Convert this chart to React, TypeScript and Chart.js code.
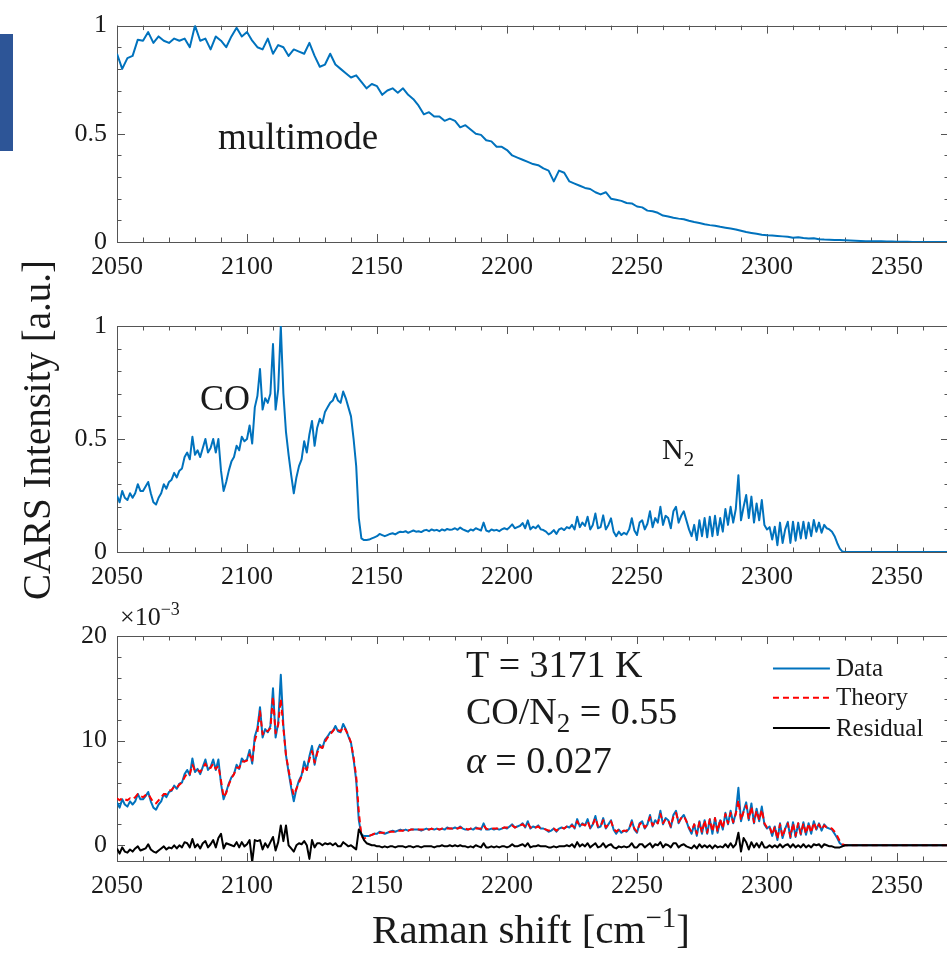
import React, { useEffect, useRef } from "react";
import { Chart, registerables } from "chart.js";

Chart.register(...registerables);

// ---------- axes ----------
const X_MIN = 2050;
const X_MAX = 2370;
const X_TICKS = [2050, 2100, 2150, 2200, 2250, 2300, 2350];
const X_MINOR_STEP = 10;
const Y_TICKS_NORM = [0, 0.5, 1];
const Y_MINOR_NORM = 0.1;
const Y_TICKS_FIT = [0, 10, 20];
const Y_MINOR_FIT = 2;
const FIT_MIN = -1.5;
const FIT_MAX = 20;

// ---------- sampling of the Raman shift axis ----------
const SHIFT_START = 2050;
const MULTIMODE_STEP = 2;
const SPECTRUM_STEP = 1;

// ---------- panel 1 : multimode laser profile (2050..2370, step 2) ----------
const MULTIMODE = [
  0.87, 0.80, 0.85, 0.86, 0.935,
  0.93, 0.97, 0.92, 0.95, 0.93,
  0.92, 0.94, 0.93, 0.94, 0.90,
  1.0, 0.93, 0.94, 0.89, 0.95,
  0.93, 0.90, 0.95, 0.99, 0.95,
  0.97, 0.93, 0.90, 0.89, 0.94,
  0.87, 0.91, 0.90, 0.86, 0.89,
  0.88, 0.87, 0.92, 0.86, 0.81,
  0.82, 0.87, 0.82, 0.80, 0.78,
  0.76, 0.77, 0.74, 0.71, 0.73,
  0.72, 0.68, 0.70, 0.71, 0.69,
  0.71, 0.68, 0.66, 0.63, 0.59,
  0.60, 0.58, 0.58, 0.56, 0.57,
  0.56, 0.53, 0.54, 0.52, 0.50,
  0.495, 0.47, 0.465, 0.44, 0.44,
  0.425, 0.40, 0.39, 0.38, 0.37,
  0.36, 0.355, 0.34, 0.33, 0.28,
  0.33, 0.32, 0.28, 0.27, 0.26,
  0.25, 0.245, 0.23, 0.22, 0.23,
  0.20, 0.195, 0.19, 0.18, 0.178,
  0.164, 0.16, 0.145, 0.142, 0.135,
  0.122, 0.118, 0.112, 0.108, 0.105,
  0.098, 0.092, 0.088, 0.082, 0.078,
  0.075, 0.07, 0.066, 0.062, 0.058,
  0.052, 0.046, 0.042, 0.038, 0.034,
  0.031, 0.03, 0.028, 0.026, 0.024,
  0.02, 0.022, 0.018, 0.016, 0.017,
  0.013, 0.011, 0.01, 0.009, 0.009,
  0.008, 0.007, 0.006, 0.005, 0.004,
  0.004, 0.003, 0.003, 0.002, 0.002,
  0.001, 0.001, 0.001, 0, 0,
  0, 0, 0, 0, 0,
  0,
];

// ---------- panel 2 : normalised CARS spectrum (2050..2370, step 1) ----------
const CARS_NORM = [
  0.25, 0.22, 0.27, 0.24, 0.23, 0.26, 0.24, 0.26, 0.30, 0.27,
  0.27, 0.29, 0.31, 0.26, 0.22, 0.21, 0.24, 0.26, 0.30, 0.28,
  0.31, 0.32, 0.35, 0.33, 0.36, 0.37, 0.42, 0.44, 0.41, 0.51,
  0.43, 0.45, 0.42, 0.46, 0.50, 0.44, 0.46, 0.50, 0.44, 0.50,
  0.36, 0.27, 0.31, 0.36, 0.40, 0.42, 0.47, 0.45, 0.51, 0.49,
  0.50, 0.56, 0.48, 0.64, 0.69, 0.81, 0.63, 0.68, 0.66, 0.70,
  0.92, 0.63, 0.72, 1.00, 0.70, 0.53, 0.43, 0.34, 0.26, 0.33,
  0.38, 0.41, 0.49, 0.44, 0.52, 0.58, 0.47, 0.55, 0.59, 0.57,
  0.62, 0.64, 0.66, 0.67, 0.70, 0.67, 0.66, 0.71, 0.68, 0.64,
  0.60, 0.50, 0.38, 0.15, 0.06, 0.053, 0.053, 0.055, 0.06, 0.065,
  0.07, 0.08, 0.075, 0.07, 0.075, 0.08, 0.083, 0.078, 0.085, 0.09,
  0.088, 0.092, 0.085, 0.09, 0.095, 0.09, 0.092, 0.088, 0.095, 0.098,
  0.092, 0.1, 0.095, 0.098, 0.092, 0.1, 0.095, 0.102, 0.098, 0.1,
  0.105, 0.098, 0.108, 0.1, 0.095, 0.09, 0.1, 0.095, 0.105, 0.1,
  0.095, 0.13, 0.095, 0.09, 0.1, 0.095, 0.098, 0.092, 0.1, 0.105,
  0.1, 0.11, 0.122, 0.105, 0.11, 0.115, 0.128, 0.105, 0.14, 0.1,
  0.112, 0.105, 0.118, 0.1, 0.097, 0.09, 0.078, 0.085, 0.097, 0.08,
  0.1, 0.105, 0.097, 0.11, 0.105, 0.12, 0.1, 0.156, 0.11, 0.13,
  0.115, 0.156, 0.1, 0.12, 0.17, 0.105, 0.11, 0.162, 0.1, 0.12,
  0.149, 0.09, 0.07, 0.09, 0.075, 0.085, 0.078, 0.1, 0.149, 0.095,
  0.075, 0.13, 0.14, 0.1, 0.125, 0.18, 0.11, 0.15, 0.13, 0.2,
  0.12, 0.16, 0.15, 0.105, 0.18, 0.2, 0.13, 0.16, 0.18, 0.14,
  0.1, 0.07, 0.12, 0.053, 0.14, 0.07, 0.15, 0.065, 0.156, 0.07,
  0.16, 0.075, 0.15, 0.09, 0.19, 0.12, 0.2, 0.13, 0.19, 0.34,
  0.14, 0.2, 0.252, 0.15, 0.245, 0.13, 0.215, 0.14, 0.23, 0.12,
  0.1, 0.11, 0.055, 0.112, 0.03, 0.13, 0.04, 0.1, 0.134, 0.04,
  0.134, 0.05, 0.13, 0.06, 0.134, 0.06, 0.13, 0.07, 0.142, 0.09,
  0.13, 0.085, 0.12, 0.105, 0.1, 0.09, 0.07, 0.04, 0.015, 0.002,
  0, 0, 0, 0, 0, 0, 0, 0, 0, 0,
  0, 0, 0, 0, 0, 0, 0, 0, 0, 0,
  0, 0, 0, 0, 0, 0, 0, 0, 0, 0,
  0, 0, 0, 0, 0, 0, 0, 0, 0, 0,
  0,
];

// ---------- panel 3 : fit (x 10^-3), 2050..2370, step 1 ----------
const FIT_DATA = [
  4.1, 3.6, 4.4, 3.9, 3.7, 4.2, 3.9, 4.2, 4.9, 4.4,
  4.4, 4.7, 5.1, 4.2, 3.6, 3.4, 3.9, 4.2, 4.9, 4.6,
  5.1, 5.2, 5.7, 5.4, 5.9, 6.0, 6.8, 7.2, 6.7, 8.3,
  7.0, 7.3, 6.8, 7.5, 8.2, 7.2, 7.5, 8.2, 7.2, 8.2,
  5.9, 4.4, 5.1, 5.9, 6.5, 6.8, 7.7, 7.3, 8.3, 8.0,
  8.2, 9.1, 7.8, 10.4, 11.2, 13.2, 10.3, 11.1, 10.8, 11.4,
  15.0, 10.3, 11.7, 16.3, 11.4, 8.6, 7.0, 5.5, 4.2, 5.4,
  6.2, 6.7, 8.0, 7.2, 8.5, 9.5, 7.7, 9.0, 9.6, 9.3,
  10.1, 10.4, 10.8, 10.9, 11.4, 10.9, 10.8, 11.6, 11.1, 10.4,
  9.8, 8.2, 6.2, 2.4, 1.0, 0.9, 0.9, 0.9, 1.0, 1.1,
  1.1, 1.3, 1.2, 1.1, 1.2, 1.3, 1.4, 1.3, 1.4, 1.5,
  1.4, 1.5, 1.4, 1.5, 1.5, 1.5, 1.5, 1.4, 1.5, 1.6,
  1.5, 1.6, 1.5, 1.6, 1.5, 1.6, 1.5, 1.7, 1.6, 1.6,
  1.7, 1.6, 1.8, 1.6, 1.5, 1.5, 1.6, 1.5, 1.7, 1.6,
  1.5, 2.1, 1.5, 1.5, 1.6, 1.5, 1.6, 1.5, 1.6, 1.7,
  1.6, 1.8, 2.0, 1.7, 1.8, 1.9, 2.1, 1.7, 2.3, 1.6,
  1.8, 1.7, 1.9, 1.6, 1.6, 1.5, 1.3, 1.4, 1.6, 1.3,
  1.6, 1.7, 1.6, 1.8, 1.7, 2.0, 1.6, 2.5, 1.8, 2.1,
  1.9, 2.5, 1.6, 2.0, 2.8, 1.7, 1.8, 2.6, 1.6, 2.0,
  2.4, 1.5, 1.1, 1.5, 1.2, 1.4, 1.3, 1.6, 2.4, 1.5,
  1.2, 2.1, 2.3, 1.6, 2.0, 2.9, 1.8, 2.4, 2.1, 3.3,
  2.0, 2.6, 2.4, 1.7, 2.9, 3.3, 2.1, 2.6, 2.9, 2.3,
  1.6, 1.1, 2.0, 0.9, 2.3, 1.1, 2.4, 1.1, 2.5, 1.1,
  2.6, 1.2, 2.4, 1.5, 3.1, 2.0, 3.3, 2.1, 3.1, 5.5,
  2.3, 3.3, 4.1, 2.4, 4.0, 2.1, 3.5, 2.3, 3.7, 2.0,
  1.6, 1.8, 0.9, 1.8, 0.5, 2.1, 0.7, 1.6, 2.2, 0.7,
  2.2, 0.8, 2.1, 1.0, 2.2, 1.0, 2.1, 1.1, 2.3, 1.5,
  2.1, 1.4, 2.0, 1.7, 1.6, 1.5, 1.1, 0.7, 0.2, 0.0,
  0, 0, 0, 0, 0, 0, 0, 0, 0, 0,
  0, 0, 0, 0, 0, 0, 0, 0, 0, 0,
  0, 0, 0, 0, 0, 0, 0, 0, 0, 0,
  0, 0, 0, 0, 0, 0, 0, 0, 0, 0,
  0,
];

const FIT_THEORY = [
  4.5, 4.3, 4.5, 4.4, 4.3, 4.5, 4.4, 4.6, 4.9, 4.7,
  4.6, 4.8, 4.9, 4.5, 4.1, 4.0, 4.3, 4.6, 4.9, 4.9,
  5.2, 5.3, 5.6, 5.5, 5.8, 6.0, 6.5, 6.9, 6.8, 7.7,
  7.1, 7.2, 7.0, 7.4, 7.8, 7.3, 7.4, 7.8, 7.3, 7.6,
  6.2, 4.6, 5.0, 5.8, 6.4, 6.8, 7.4, 7.4, 8.0, 8.0,
  8.1, 8.7, 8.0, 10.0, 10.8, 12.8, 10.6, 11.0, 10.9, 11.2,
  14.2, 10.7, 11.5, 14.0, 11.2, 8.6, 7.2, 5.8, 4.8, 5.4,
  6.0, 6.6, 7.6, 7.2, 8.2, 9.0, 7.9, 8.8, 9.4, 9.3,
  9.9, 10.3, 10.6, 10.9, 11.2, 11.0, 10.9, 11.3, 11.0, 10.5,
  9.8, 8.4, 6.6, 3.2, 0.9, 0.6, 0.8, 0.9, 1.0, 1.1,
  1.1, 1.2, 1.2, 1.2, 1.2, 1.3, 1.3, 1.3, 1.4, 1.4,
  1.4, 1.5, 1.4, 1.5, 1.5, 1.5, 1.5, 1.5, 1.5, 1.5,
  1.5, 1.6, 1.5, 1.6, 1.5, 1.6, 1.6, 1.6, 1.6, 1.6,
  1.7, 1.6, 1.7, 1.6, 1.6, 1.5, 1.6, 1.6, 1.6, 1.6,
  1.6, 1.9, 1.6, 1.5, 1.6, 1.6, 1.6, 1.6, 1.6, 1.7,
  1.7, 1.8, 1.9, 1.7, 1.8, 1.9, 2.0, 1.8, 2.1, 1.7,
  1.8, 1.7, 1.8, 1.6, 1.6, 1.5, 1.4, 1.5, 1.6, 1.4,
  1.6, 1.7, 1.6, 1.8, 1.7, 1.9, 1.7, 2.3, 1.8, 2.0,
  1.9, 2.3, 1.7, 2.0, 2.6, 1.8, 1.8, 2.4, 1.7, 2.0,
  2.3, 1.6, 1.3, 1.5, 1.3, 1.4, 1.4, 1.6, 2.2, 1.6,
  1.3, 2.0, 2.2, 1.7, 2.0, 2.7, 1.9, 2.3, 2.1, 3.0,
  2.1, 2.5, 2.4, 1.8, 2.7, 3.1, 2.2, 2.6, 2.8, 2.3,
  1.7, 1.3, 2.0, 1.1, 2.2, 1.2, 2.4, 1.2, 2.5, 1.3,
  2.6, 1.3, 2.5, 1.6, 3.0, 2.1, 3.1, 2.2, 3.0, 4.3,
  2.4, 3.2, 3.8, 2.5, 3.7, 2.2, 3.3, 2.4, 3.4, 2.1,
  1.7, 1.8, 1.0, 1.8, 0.6, 2.0, 0.8, 1.6, 2.1, 0.8,
  2.1, 0.9, 2.1, 1.1, 2.1, 1.1, 2.1, 1.2, 2.2, 1.5,
  2.0, 1.5, 1.9, 1.7, 1.7, 1.6, 1.3, 0.9, 0.4, 0.1,
  0, 0, 0, 0, 0, 0, 0, 0, 0, 0,
  0, 0, 0, 0, 0, 0, 0, 0, 0, 0,
  0, 0, 0, 0, 0, 0, 0, 0, 0, 0,
  0, 0, 0, 0, 0, 0, 0, 0, 0, 0,
  0,
];

const FIT_RESIDUAL = [
  -0.3, -0.8, -0.2, -0.6, -0.7, -0.4, -0.6, -0.3, -0.1, -0.5,
  -0.4, -0.3, 0.1, -0.4, -0.6, -0.7, -0.5, -0.3, -0.1, -0.4,
  -0.2, -0.3, 0.0, -0.3, 0.0, -0.2, 0.3, 0.2, -0.2, 0.6,
  -0.2, 0.1, -0.3, 0.2, 0.4, -0.2, 0.1, 0.5, -0.2, 0.7,
  1.1, -0.3, 0.2, 0.1, 0.0, -0.1, 0.3, -0.2, 0.3, -0.1,
  0.1, 0.5, -1.6, 0.5, 0.4, 0.5, -0.4, 0.2, -0.2, 0.3,
  0.8, -0.5, 0.3, 1.9, 0.4, 1.9, 0.0, -0.3, -0.6, 0.0,
  0.2, 0.1, 0.4, 0.0, -1.3, 0.5, -0.2, 0.2, 0.2, 0.0,
  0.2, 0.1, 0.2, 0.0, 0.2, -0.1, -0.1, 0.3, 0.1, -0.1,
  0.0, -0.2, -0.4, 1.5, 1.1, 0.5, 0.2, 0.1, 0.0, 0.0,
  -0.1, -0.1, -0.2, -0.1, -0.2, -0.1, -0.1, -0.2, -0.1, -0.1,
  -0.1, -0.2, -0.1, -0.1, -0.2, -0.1, -0.1, -0.2, -0.1, -0.1,
  -0.1, -0.1, -0.2, -0.1, -0.1, 0.0, -0.1, -0.1, 0.0, -0.1,
  0.0, -0.1, 0.0, -0.1, -0.1, -0.2, -0.1, -0.2, 0.0, -0.1,
  -0.2, 0.2, -0.2, -0.2, -0.1, -0.2, -0.1, -0.2, -0.1, -0.1,
  -0.2, -0.1, 0.1, -0.1, -0.1, 0.0, 0.1, -0.1, 0.2, -0.2,
  -0.1, -0.1, 0.0, -0.1, -0.1, -0.1, -0.2, -0.2, -0.1, -0.2,
  -0.1, -0.1, -0.1, 0.0, -0.1, 0.1, -0.2, 0.3, -0.1, 0.1,
  -0.1, 0.2, -0.2, 0.0, 0.2, -0.2, -0.1, 0.2, -0.2, 0.0,
  0.1, -0.2, -0.3, -0.1, -0.2, -0.1, -0.2, -0.1, 0.2, -0.2,
  -0.2, 0.1, 0.1, -0.2, 0.0, 0.2, -0.2, 0.1, 0.0, 0.3,
  -0.2, 0.1, 0.0, -0.2, 0.2, 0.2, -0.2, 0.0, 0.1, -0.1,
  -0.2, -0.3, 0.0, -0.3, 0.1, -0.2, 0.0, -0.2, 0.0, -0.3,
  0.0, -0.2, -0.1, -0.2, 0.1, -0.2, 0.2, -0.2, 0.1, 1.2,
  -0.6, 0.7, 0.3, -0.4, 0.3, -0.2, 0.2, -0.2, 0.3, -0.2,
  -0.2, 0.0, -0.2, 0.0, -0.2, 0.1, -0.2, 0.0, 0.1, -0.2,
  0.1, -0.2, 0.0, -0.2, 0.1, -0.2, 0.0, -0.2, 0.1, 0.0,
  0.1, -0.2, 0.1, 0.0, -0.1, -0.1, -0.2, -0.2, -0.2, -0.1,
  0, 0, 0, 0, 0, 0, 0, 0, 0, 0,
  0, 0, 0, 0, 0, 0, 0, 0, 0, 0,
  0, 0, 0, 0, 0, 0, 0, 0, 0, 0,
  0, 0, 0, 0, 0, 0, 0, 0, 0, 0,
  0,
];

// ---------- styling ----------
const SERIF = '"Liberation Serif", "DejaVu Serif", serif';
const BLUE = "#0072BD";
const RED = "#FF0000";
const BLACK = "#000000";
const FRAME = "#555555";
const TEXT = "#1a1a1a";

Chart.defaults.font.family = SERIF;

type Seg = { t: string; sub?: boolean; sup?: boolean; italic?: boolean };

function segFont(s: Seg, size: number) {
  const sz = s.sub || s.sup ? Math.round(size * 0.7) : size;
  return `${s.italic ? "italic " : ""}${sz}px ${SERIF}`;
}

function drawSegs(ctx: CanvasRenderingContext2D, segs: Seg[], x: number, y: number, size: number, align: "left" | "center" = "left") {
  let w = 0;
  for (const s of segs) {
    ctx.font = segFont(s, size);
    w += ctx.measureText(s.t).width;
  }
  let cx = align === "center" ? x - w / 2 : x;
  ctx.textAlign = "left";
  ctx.textBaseline = "alphabetic";
  for (const s of segs) {
    ctx.font = segFont(s, size);
    const dy = s.sub ? size * 0.22 : s.sup ? -size * 0.4 : 0;
    ctx.fillText(s.t, cx, y + dy);
    cx += ctx.measureText(s.t).width;
  }
}

function series(values: number[], step: number) {
  return values.map((y, i) => ({ x: SHIFT_START + i * step, y }));
}

// frame with MATLAB-like inward ticks on all four sides
const framePlugin = {
  id: "frame",
  beforeDatasetsDraw(chart: any, _a: any, opts: any) {
    const { ctx, chartArea: a, scales } = chart;
    const xs = scales.x;
    const ys = scales.y;
    ctx.save();
    ctx.strokeStyle = FRAME;
    ctx.lineWidth = 1;
    ctx.strokeRect(Math.round(a.left) + 0.5, Math.round(a.top) + 0.5, Math.round(a.right - a.left), Math.round(a.bottom - a.top));
    const MAJ = 8;
    const MIN = 4.5;
    ctx.beginPath();
    const kx0 = Math.ceil(xs.min / X_MINOR_STEP);
    const kx1 = Math.floor(xs.max / X_MINOR_STEP);
    for (let k = kx0; k <= kx1; k++) {
      const v = k * X_MINOR_STEP;
      const len = X_TICKS.some((t) => Math.abs(t - v) < 1e-6) ? MAJ : MIN;
      const px = Math.round(xs.getPixelForValue(v)) + 0.5;
      ctx.moveTo(px, a.bottom);
      ctx.lineTo(px, a.bottom - len);
      ctx.moveTo(px, a.top);
      ctx.lineTo(px, a.top + len);
    }
    const ystep = opts.yMinor;
    const ky0 = Math.ceil(ys.min / ystep - 1e-9);
    const ky1 = Math.floor(ys.max / ystep + 1e-9);
    for (let k = ky0; k <= ky1; k++) {
      const v = k * ystep;
      const len = opts.yMajor.some((t: number) => Math.abs(t - v) < 1e-6) ? MAJ : MIN;
      const py = Math.round(ys.getPixelForValue(v)) + 0.5;
      ctx.moveTo(a.left, py);
      ctx.lineTo(a.left + len, py);
      ctx.moveTo(a.right, py);
      ctx.lineTo(a.right - len, py);
    }
    ctx.stroke();
    ctx.restore();
  },
};

// annotations, legend, axis titles
const notesPlugin = {
  id: "notes",
  afterDraw(chart: any, _a: any, opts: any) {
    const { ctx, chartArea: a, scales } = chart;
    const xs = scales.x;
    const ys = scales.y;
    ctx.save();
    ctx.fillStyle = TEXT;
    for (const n of opts.notes || []) {
      drawSegs(ctx, n.segs, xs.getPixelForValue(n.x), ys.getPixelForValue(n.y), n.size);
    }
    if (opts.exponent) {
      drawSegs(ctx, opts.exponent, a.left + 3, a.top - 11, 26);
    }
    if (opts.yTitle) {
      ctx.save();
      ctx.translate(a.left - 77, (a.top + a.bottom) / 2 - 9);
      ctx.rotate(-Math.PI / 2);
      ctx.font = `39px ${SERIF}`;
      ctx.textAlign = "center";
      ctx.textBaseline = "middle";
      ctx.fillText(opts.yTitle, 0, 0);
      ctx.restore();
    }
    if (opts.xTitle) {
      drawSegs(ctx, opts.xTitle, (a.left + a.right) / 2 - 2, chart.height - 11, 41, "center");
    }
    if (opts.legend) {
      const L = opts.legend;
      const x0 = xs.getPixelForValue(L.from);
      const x1 = xs.getPixelForValue(L.to);
      const tx = xs.getPixelForValue(L.textAt);
      chart.data.datasets.forEach((d: any, i: number) => {
        const py = ys.getPixelForValue(L.rows[i]);
        ctx.save();
        ctx.strokeStyle = d.borderColor;
        ctx.lineWidth = d.borderWidth;
        ctx.setLineDash(d.borderDash || []);
        ctx.beginPath();
        ctx.moveTo(x0, py);
        ctx.lineTo(x1, py);
        ctx.stroke();
        ctx.restore();
        ctx.fillStyle = TEXT;
        ctx.font = `${L.size}px ${SERIF}`;
        ctx.textAlign = "left";
        ctx.textBaseline = "middle";
        ctx.fillText(d.label, tx, py + 1);
      });
    }
    ctx.restore();
  },
};

type Panel = {
  top: number;
  bottom: number;
  yMin: number;
  yMax: number;
  yMajor: number[];
  yMinor: number;
  datasets: any[];
  notes: any;
};

const PANELS: Panel[] = [
  {
    top: 17,
    bottom: 662,
    yMin: 0,
    yMax: 1,
    yMajor: Y_TICKS_NORM,
    yMinor: Y_MINOR_NORM,
    datasets: [
      { label: "multimode", data: series(MULTIMODE, MULTIMODE_STEP), borderColor: BLUE, borderWidth: 2 },
    ],
    notes: {
      notes: [{ x: 2088.8, y: 0.43, size: 37, segs: [{ t: "multimode" }] }],
    },
  },
  {
    top: 326,
    bottom: 352,
    yMin: 0,
    yMax: 1,
    yMajor: Y_TICKS_NORM,
    yMinor: Y_MINOR_NORM,
    datasets: [
      { label: "CARS", data: series(CARS_NORM, SPECTRUM_STEP), borderColor: BLUE, borderWidth: 2 },
    ],
    notes: {
      notes: [
        { x: 2081.9, y: 0.628, size: 36, segs: [{ t: "CO" }] },
        { x: 2259.6, y: 0.41, size: 30, segs: [{ t: "N" }, { t: "2", sub: true }] },
      ],
      yTitle: "CARS Intensity [a.u.]",
    },
  },
  {
    top: 636,
    bottom: 43,
    yMin: FIT_MIN,
    yMax: FIT_MAX,
    yMajor: Y_TICKS_FIT,
    yMinor: Y_MINOR_FIT,
    datasets: [
      { label: "Data", data: series(FIT_DATA, SPECTRUM_STEP), borderColor: BLUE, borderWidth: 2, order: 3 },
      { label: "Theory", data: series(FIT_THEORY, SPECTRUM_STEP), borderColor: RED, borderWidth: 2, borderDash: [6, 4], order: 2 },
      { label: "Residual", data: series(FIT_RESIDUAL, SPECTRUM_STEP), borderColor: BLACK, borderWidth: 2, order: 1 },
    ],
    notes: {
      notes: [
        { x: 2184.2, y: 16.1, size: 38, segs: [{ t: "T = 3171 K" }] },
        { x: 2184.2, y: 11.6, size: 38, segs: [{ t: "CO/N" }, { t: "2", sub: true }, { t: " = 0.55" }] },
        { x: 2184.2, y: 6.9, size: 38, segs: [{ t: "α", italic: true }, { t: " = 0.027" }] },
      ],
      exponent: [{ t: "×10" }, { t: "−3", sup: true }],
      xTitle: [{ t: "Raman shift [cm" }, { t: "−1", sup: true }, { t: "]" }],
      legend: { from: 2302.3, to: 2324.2, textAt: 2326.5, rows: [16.9, 14.1, 11.2], size: 25 },
    },
  },
];

function buildConfig(p: Panel): any {
  return {
    type: "line",
    data: {
      datasets: p.datasets.map((d) => ({
        ...d,
        pointRadius: 0,
        pointHoverRadius: 0,
        fill: false,
        tension: 0,
        borderJoinStyle: "round",
      })),
    },
    options: {
      animation: false,
      responsive: false,
      maintainAspectRatio: false,
      devicePixelRatio: 1,
      events: [],
      layout: { padding: { top: p.top, bottom: p.bottom, left: 0, right: 1 } },
      plugins: {
        legend: { display: false },
        tooltip: { enabled: false },
        title: { display: false },
        frame: { yMajor: p.yMajor, yMinor: p.yMinor },
        notes: p.notes,
      },
      scales: {
        x: {
          type: "linear",
          min: X_MIN,
          max: X_MAX,
          grid: { display: false, drawTicks: false },
          border: { display: false },
          afterFit: (s: any) => {
            s.height = 50;
          },
          afterBuildTicks: (s: any) => {
            s.ticks = X_TICKS.map((v) => ({ value: v }));
          },
          ticks: {
            callback: (v: any) => String(v),
            font: { family: SERIF, size: 26 },
            color: TEXT,
            padding: 10,
            maxRotation: 0,
            minRotation: 0,
            autoSkip: false,
          },
        },
        y: {
          type: "linear",
          min: p.yMin,
          max: p.yMax,
          grid: { display: false, drawTicks: false },
          border: { display: false },
          afterFit: (s: any) => {
            s.width = 117;
          },
          afterBuildTicks: (s: any) => {
            s.ticks = p.yMajor.map((v) => ({ value: v }));
          },
          ticks: {
            callback: (v: any) => String(v),
            font: { family: SERIF, size: 26 },
            color: TEXT,
            padding: 10,
            autoSkip: false,
          },
        },
      },
    },
    plugins: [framePlugin, notesPlugin],
  };
}

export default function App() {
  const r0 = useRef<HTMLCanvasElement>(null);
  const r1 = useRef<HTMLCanvasElement>(null);
  const r2 = useRef<HTMLCanvasElement>(null);
  const refs = [r0, r1, r2];

  useEffect(() => {
    const charts = PANELS.map((p, i) => new Chart(refs[i].current as HTMLCanvasElement, buildConfig(p)));
    return () => charts.forEach((c) => c.destroy());
  }, []);

  return (
    <div
      style={{
        position: "fixed",
        left: 0,
        top: 0,
        width: 947,
        height: 954,
        overflow: "hidden",
        background: "#ffffff",
      }}
    >
      <div style={{ position: "absolute", left: 0, top: 34, width: 13, height: 117, background: "#2D5597" }} />
      {refs.map((r, i) => (
        <canvas
          key={i}
          ref={r}
          width={950}
          height={954}
          style={{ position: "absolute", left: 0, top: 0, width: 950, height: 954 }}
        />
      ))}
    </div>
  );
}
